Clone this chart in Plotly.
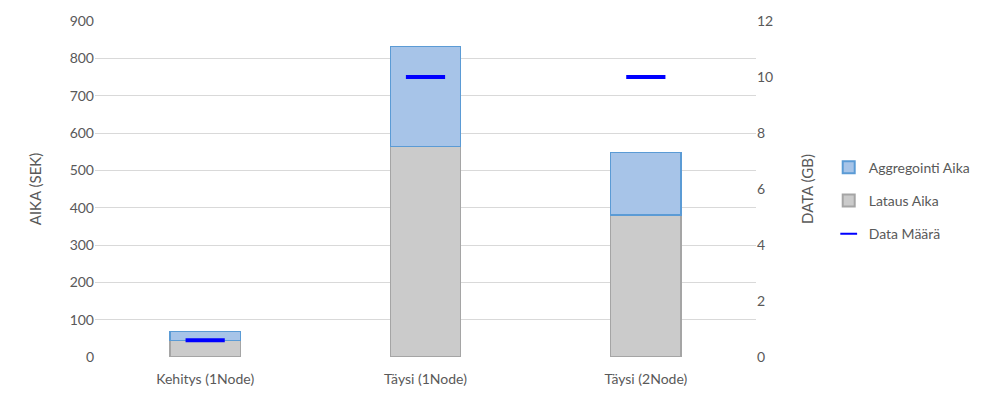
import plotly.graph_objects as go

categories = ["Kehitys (1Node)", "Täysi (1Node)", "Täysi (2Node)"]
lataus_aika = [45, 564, 380]
aggregointi_aika = [23, 268, 167]
data_maara = [0.6, 10, 10]

font_color = "#595959"
font_family = "Lato, 'Open Sans', sans-serif"

fig = go.Figure()

fig.add_trace(go.Bar(
    x=categories, y=lataus_aika, name="Lataus Aika",
    legendrank=2, legendgroup="b",
    marker=dict(color="#cbcbcb", line=dict(color="#a5a5a5", width=1.3)),
))
fig.add_trace(go.Bar(
    x=categories, y=aggregointi_aika, name="Aggregointi Aika",
    legendrank=1, legendgroup="a",
    marker=dict(color="#a7c4e8", line=dict(color="#5b9bd5", width=1.3)),
))
fig.add_trace(go.Scatter(
    x=categories, y=data_maara, name="Data Määrä", yaxis="y2",
    legendrank=3, legendgroup="c",
    mode="markers",
    marker=dict(symbol="line-ew-open", size=28, color="#0000ff",
                line=dict(color="#0000ff", width=4)),
))

fig.update_layout(
    barmode="stack",
    bargap=0.68,
    width=1002, height=402,
    margin=dict(l=87, r=254, t=13, b=53),
    plot_bgcolor="white", paper_bgcolor="white",
    font=dict(family=font_family, size=14, color=font_color),
    showlegend=True,
    legend=dict(
        x=1.11, y=0.465, xanchor="left", yanchor="middle",
        traceorder="grouped", font=dict(size=14, color=font_color),
        tracegroupgap=12, itemsizing="constant",
    ),
    xaxis=dict(showgrid=False, showline=False, ticks="outside",
               ticklen=9, tickcolor="rgba(0,0,0,0)", automargin=False,
               tickfont=dict(size=14, color=font_color)),
    yaxis=dict(
        title=dict(text="AIKA (SEK)", font=dict(size=15, color=font_color), standoff=24),
        range=[0, 900], dtick=100, showgrid=True, gridcolor="#d9d9d9",
        gridwidth=1, zeroline=False, showline=False, automargin=False,
        tickfont=dict(size=14, color=font_color),
    ),
    yaxis2=dict(
        title=dict(text="DATA (GB)", font=dict(size=15, color=font_color), standoff=30),
        overlaying="y", side="right", range=[0, 12], dtick=2,
        showgrid=False, zeroline=False, showline=False, automargin=False,
        tickfont=dict(size=14, color=font_color),
    ),
)

fig.write_html("out.html")
